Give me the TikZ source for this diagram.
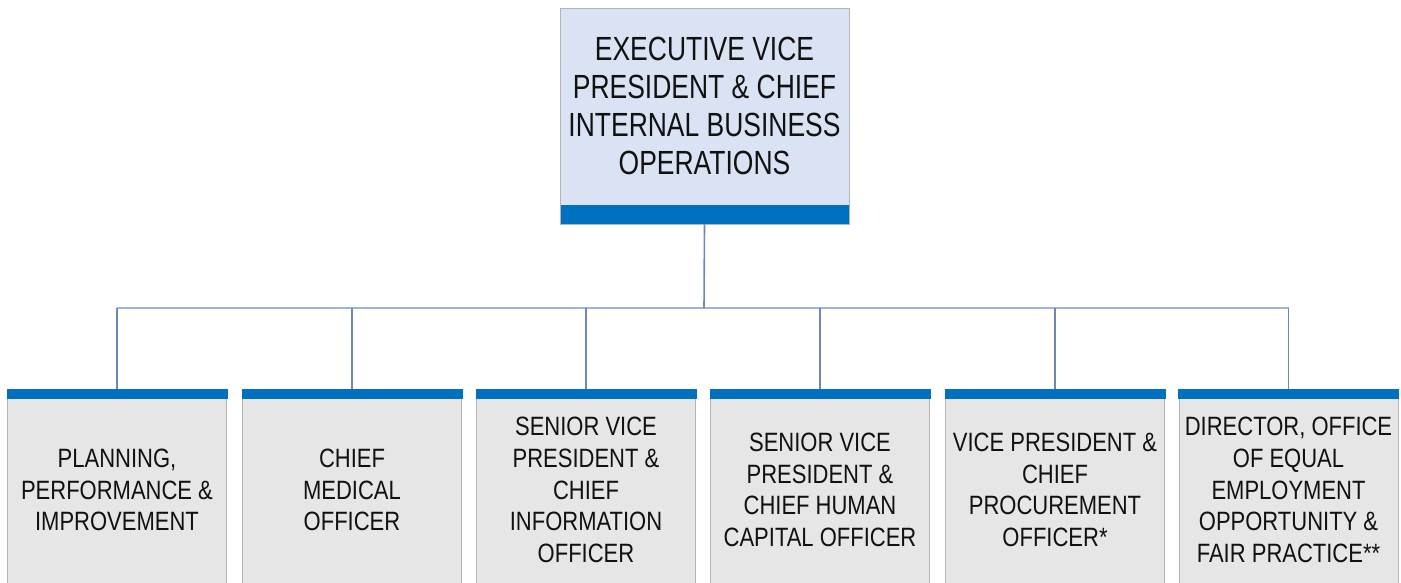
\documentclass[tikz,border=0pt]{standalone}
\usepackage{fontspec}
\setmainfont[FakeStretch=0.79]{Liberation Sans}
\newfontfamily\childfont[FakeStretch=0.83]{Liberation Sans}
\definecolor{bandblue}{HTML}{0070C0}
\definecolor{topfill}{HTML}{DAE3F3}
\definecolor{boxfill}{HTML}{E6E6E6}
\definecolor{boxline}{HTML}{B4B4B4}
\definecolor{vline}{HTML}{7086B4}
\definecolor{hline}{HTML}{9FB4DC}
\definecolor{txt}{HTML}{111111}
\tikzset{
  topbox/.style={draw=boxline, line width=0.8pt, fill=topfill, minimum width=289pt, minimum height=216pt, inner sep=0pt,
    path picture={\fill[bandblue] ([yshift=19pt]path picture bounding box.south west) rectangle (path picture bounding box.south east);}},
  toptext/.style={align=center, text=txt, font=\fontsize{33.5}{38}\selectfont, inner sep=0pt},
  childbox/.style={draw=boxline, line width=0.8pt, fill=boxfill, minimum width=219pt, minimum height=201pt, anchor=north, inner sep=0pt,
    align=center, text=txt, font=\childfont\fontsize{26.5}{31.7}\selectfont},
  childband/.style={fill=bandblue, minimum width=221pt, minimum height=10pt, inner sep=0pt, anchor=north},
  vconn/.style={draw=vline, line width=1.6pt},
  hconn/.style={draw=hline, line width=2pt}
}
\begin{document}
\begin{tikzpicture}[x=1pt,y=-1pt]
\useasboundingbox (0,0) rectangle (1401,582);
\fill[white] (0,0) rectangle (1401,582);
% top
\node[topbox] (top) at (704.5,116) {};
\node[toptext] (toplabel) at (704.5,106) {EXECUTIVE VICE\\PRESIDENT \& CHIEF\\INTERNAL BUSINESS\\OPERATIONS};
% children
\node[childbox] (c1) at (117,389) {PLANNING,\\PERFORMANCE \&\\IMPROVEMENT};
\node[childbox] (c2) at (352,389) {CHIEF\\MEDICAL\\OFFICER};
\node[childbox] (c3) at (586,389) {SENIOR VICE\\PRESIDENT \&\\CHIEF\\INFORMATION\\OFFICER};
\node[childbox] (c4) at (820,389) {SENIOR VICE\\PRESIDENT \&\\CHIEF HUMAN\\CAPITAL OFFICER};
\node[childbox] (c5) at (1055,389) {VICE PRESIDENT \&\\CHIEF\\PROCUREMENT\\OFFICER*};
\node[childbox] (c6) at (1288.5,389) {DIRECTOR, OFFICE\\OF EQUAL\\EMPLOYMENT\\OPPORTUNITY \&\\FAIR PRACTICE**};
\foreach \c in {c1,c2,c3,c4,c5,c6}{\node[childband] (\c b) at (\c.north) {};}
% connectors
\coordinate (bus) at (704,308);
\draw[hconn] (c1.north |- bus) -- (c6.north |- bus);
\draw[vconn] (top.south) -- (bus);
\foreach \c in {c1,c2,c3,c4,c5,c6}{\draw[vconn] (\c b.north) -- (\c b.north |- bus);}
\end{tikzpicture}
\end{document}
